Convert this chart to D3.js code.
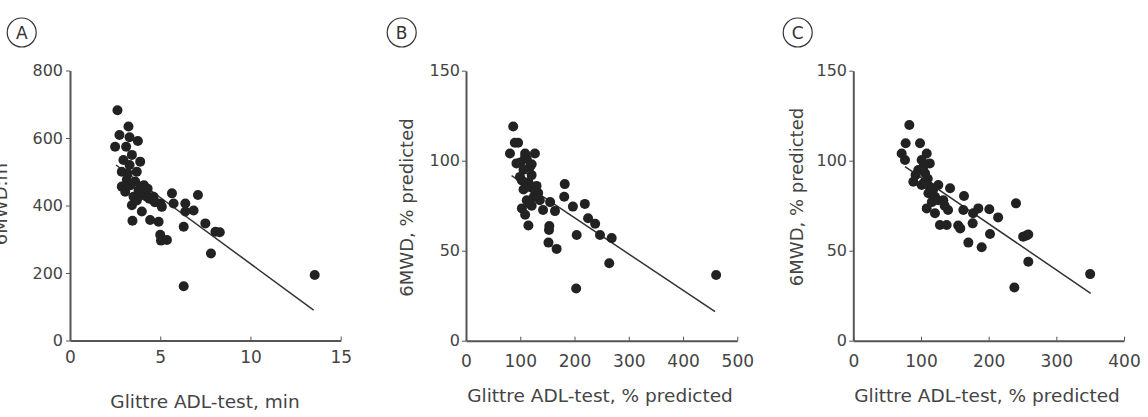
<!DOCTYPE html>
<html>
<head>
<meta charset="utf-8">
<script src="https://cdn.jsdelivr.net/npm/d3@7"></script>
<style>
  body { margin: 0; background: #fff; }
  svg { display: block; font-family: "DejaVu Sans", sans-serif; }
  .axis path, .axis line { stroke: #555; }
  .axis path { stroke-width: 2; }
  .axis text { fill: #444; font-family: "DejaVu Sans", sans-serif; }
</style>
</head>
<body>
<svg id="chart" width="1148" height="417"></svg>
<script>
// panel A: Glittre ADL-test (min) vs 6MWD (m)
const aX = [2.63, 2.74, 2.5, 3.24, 3.11, 3.3, 3.76, 3.43, 2.96, 3.89, 3.7, 2.87, 3.15, 2.87, 3.61, 3.98, 3.06, 4.17,
  3.52, 3.43, 3.7, 4.63, 5.0, 5.65, 5.74, 5.09, 6.39, 6.39, 6.85, 7.09, 3.98, 3.46, 4.44, 4.91, 5.0, 5.37, 5.04, 6.3,
  7.5, 8.06, 8.3, 7.81, 6.3, 13.56, 3.3, 3.2, 4.26, 4.4, 3.8, 4.1, 3.9, 4.7, 3.35, 4.3];
const aY = [682, 609, 574, 634, 574, 602, 591, 550, 535, 530, 500, 500, 476, 456, 471, 456, 441, 441,
  426, 401, 415, 426, 406, 436, 406, 396, 406, 382, 385, 431, 382, 355, 357, 352, 313, 298, 296, 337,
  347, 322, 321, 258, 161, 194, 520, 495, 426, 420, 445, 460, 430, 410, 460, 450];
const aFitX = [2.55, 13.5];
const aFitY = [520, 90];

// panel B: Glittre ADL-test (% predicted) vs 6MWD (% predicted)
const bX = [87, 90, 96, 81, 127, 109, 93, 118, 99.5, 112, 106, 133, 112, 121, 103, 109, 115, 142, 155, 164,
  182, 181, 197, 219, 225, 238, 247, 268.5, 204, 153.6, 153, 152, 167, 264, 203, 461,
  100, 112, 121, 103, 115, 121, 106, 130, 136, 109, 121, 125, 118, 128];
const bY = [119, 110, 110, 104, 104, 102, 98.5, 96.7, 91, 87, 84, 82, 78, 75, 73.5, 70, 64, 72.6, 77, 72,
  87, 80, 74.5, 76, 68, 65, 58.7, 57, 58.7, 63.7, 61.5, 54.5, 51, 43, 29, 36.5,
  99, 101, 98, 89, 88, 85, 95, 86, 78, 104, 92, 80, 76, 83];
const bFitX = [84, 459];
const bFitY = [91.7, 16.1];

// panel C: Glittre ADL-test (% predicted) vs 6MWD (% predicted)
const cX = [82.8, 77.4, 98.6, 71.5, 76.4, 108.5, 101, 113, 96, 106, 88.7, 101, 113, 125.6, 143, 111, 120.7, 116,
  133, 108.5, 120.7, 140, 128, 138, 155, 158, 163.6, 162.6, 176.4, 184.7, 201, 177, 214, 170, 189.7, 202,
  240.4, 251, 256, 258.6, 258.6, 238, 350, 104, 110, 118, 92, 105, 125, 135];
const cY = [119.8, 109.7, 109.7, 104, 100.4, 104, 100.4, 98.5, 94.8, 93, 88.3, 86.5, 85.5, 86.5, 84.7, 81.9, 80, 77,
  78, 73.5, 70.8, 72.6, 64.3, 64.3, 64, 62.4, 80.4, 72.6, 65.2, 73.5, 73, 70.8, 68.5, 54.5, 51.9, 59.3,
  76.3, 57.8, 58.5, 59, 43.9, 29.6, 37, 97, 90, 84, 92, 88, 78, 75];
const cFitX = [76.4, 350.8];
const cFitY = [96.7, 26.3];

const svg = d3.select('#chart');

const panels = [
  { tag: 'A', xs: aX, ys: aY, fx: aFitX, fy: aFitY, xMax: 15, xTicks: [0, 5, 10, 15], yMax: 800, yTicks: [0, 200, 400, 600, 800],
    left: 70, right: 340.7, top: 70.5, bottom: 340.5, badge: [21.7, 32.5],
    xTitle: 'Glittre ADL-test, min', xTitlePos: [205, 408], yTitle: '6MWD:m', yTitlePos: [7, 204], xTickY: 363, yTickX: 63 },
  { tag: 'B', xs: bX, ys: bY, fx: bFitX, fy: bFitY, xMax: 500, xTicks: [0, 100, 200, 300, 400, 500], yMax: 150, yTicks: [0, 50, 100, 150],
    left: 466, right: 737.3, top: 70.7, bottom: 340.7, badge: [401.7, 32.5],
    xTitle: 'Glittre ADL-test, % predicted', xTitlePos: [600, 402], yTitle: '6MWD, % predicted', yTitlePos: [413, 207.5], xTickY: 367, yTickX: 460 },
  { tag: 'C', xs: cX, ys: cY, fx: cFitX, fy: cFitY, xMax: 400, xTicks: [0, 100, 200, 300, 400], yMax: 150, yTicks: [0, 50, 100, 150],
    left: 853.3, right: 1124, top: 70.7, bottom: 340.7, badge: [797.7, 32.5],
    xTitle: 'Glittre ADL-test, % predicted', xTitlePos: [987, 402], yTitle: '6MWD, % predicted', yTitlePos: [803, 197], xTickY: 367, yTickX: 847 }
];

panels.forEach(p => {
  const x = d3.scaleLinear().domain([0, p.xMax]).range([p.left, p.right]);
  const y = d3.scaleLinear().domain([0, p.yMax]).range([p.bottom, p.top]);
  const g = svg.append('g');

  // y axis
  const yAxis = g.append('g')
    .attr('class', 'axis')
    .attr('transform', `translate(${p.left},0)`)
    .call(d3.axisLeft(y).tickValues(p.yTicks).tickSize(4).tickSizeOuter(0).tickPadding(p.left - p.yTickX - 4));
  yAxis.attr('font-family', null);
  yAxis.selectAll('text').style('font-size', '16px');

  // x axis, ticks pointing up
  const xAxis = g.append('g')
    .attr('class', 'axis')
    .attr('transform', `translate(0,${p.bottom})`)
    .call(d3.axisBottom(x).tickValues(p.xTicks).tickSize(-4).tickSizeOuter(0));
  xAxis.attr('font-family', null);
  xAxis.selectAll('text')
    .attr('y', p.xTickY - p.bottom)
    .attr('dy', null)
    .style('font-size', '17px');

  // regression line
  g.append('line')
    .attr('x1', x(p.fx[0])).attr('y1', y(p.fy[0]))
    .attr('x2', x(p.fx[1])).attr('y2', y(p.fy[1]))
    .attr('stroke', '#333')
    .attr('stroke-width', 1.5);

  // dots
  g.selectAll('circle.dot')
    .data(p.xs.map((v, i) => [v, p.ys[i]]))
    .enter().append('circle')
    .attr('class', 'dot')
    .attr('cx', d => x(d[0]))
    .attr('cy', d => y(d[1]))
    .attr('r', 5)
    .attr('fill', '#222');

  // titles
  g.append('text')
    .attr('x', p.xTitlePos[0]).attr('y', p.xTitlePos[1])
    .attr('text-anchor', 'middle')
    .attr('fill', '#444')
    .style('font-size', '18.5px')
    .text(p.xTitle);

  g.append('text')
    .attr('transform', `translate(${p.yTitlePos[0]},${p.yTitlePos[1]}) rotate(-90)`)
    .attr('text-anchor', 'middle')
    .attr('fill', '#444')
    .style('font-size', '18px')
    .text(p.yTitle);

  // panel letter
  g.append('circle')
    .attr('cx', p.badge[0]).attr('cy', p.badge[1])
    .attr('r', 14.5)
    .attr('fill', 'none')
    .attr('stroke', '#333')
    .attr('stroke-width', 1.2);
  g.append('text')
    .attr('x', p.badge[0]).attr('y', p.badge[1] + 6.5)
    .attr('text-anchor', 'middle')
    .attr('fill', '#333')
    .style('font-size', '17px')
    .text(p.tag);
});
</script>
</body>
</html>
